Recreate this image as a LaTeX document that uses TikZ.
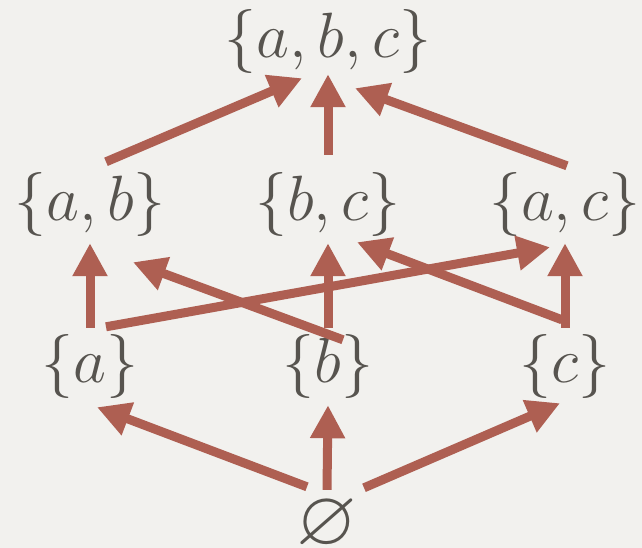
\RequirePackage{fix-cm}
\documentclass[tikz,border=0pt]{standalone}
\usepackage{amsmath,amssymb}
\usepackage{xcolor}
\usetikzlibrary{arrows.meta}
\definecolor{paper}{HTML}{F2F1EE}
\definecolor{ink}{HTML}{57544F}
\definecolor{rust}{HTML}{AE5F52}
\tikzset{
  st/.style = {inner sep=0pt, text=ink, text height=45pt, text depth=15pt,
               font=\fontsize{64}{76}\selectfont},
  fl/.style = {-{Triangle[length=33pt,width=33pt]}, line width=9pt, rust},
}
\begin{document}
\begin{tikzpicture}[x=1pt, y=-1pt]
  \fill[paper] (0,0) rectangle (642,548);
  \useasboundingbox (0,0) rectangle (642,548);

  % nodes
  \node[st] (abc) at (328,43)  {$\{a,b,c\}$};
  \node[st] (ab)  at (90,205)  {$\{a,b\}$};
  \node[st] (bc)  at (328,205) {$\{b,c\}$};
  \node[st] (ac)  at (565,205) {$\{a,c\}$};
  \node[st] (a)   at (90,367)  {$\{a\}$};
  \node[st] (b)   at (328,367) {$\{b\}$};
  \node[st] (c)   at (565,367) {$\{c\}$};
  \node[st, font=\fontsize{78}{90}\selectfont] (emp) at (327,529) {$\varnothing$};

  % empty set
  \draw[fl] ([shift={(-20,-12)}]emp.north) -- ([shift={(7,10)}]a.south);
  \draw[fl] ([shift={(0,-9)}]emp.north)    -- ([shift={(0,8)}]b.south);
  \draw[fl] ([shift={(37,-11)}]emp.north)  -- ([shift={(-5,6)}]c.south);

  % singletons
  \draw[fl] ([shift={(0,-9)}]a.north)   -- ([shift={(0,8)}]ab.south);
  \draw[fl] ([shift={(16,-10)}]a.north) -- ([shift={(-15,12)}]ac.south);
  \draw[fl] ([shift={(15,3)}]b.north)   -- ([shift={(43,27)}]ab.south);
  \draw[fl] ([shift={(0,-9)}]b.north)   -- ([shift={(0,8)}]bc.south);
  \draw[fl] ([shift={(-3,-17)}]c.north) -- ([shift={(29,7)}]bc.south);
  \draw[fl] ([shift={(0,-9)}]c.north)   -- ([shift={(0,8)}]ac.south);

  % pairs
  \draw[fl] ([shift={(16,-13)}]ab.north) -- ([shift={(-26,5)}]abc.south);
  \draw[fl] ([shift={(0,-20)}]bc.north)  -- ([shift={(0,1)}]abc.south);
  \draw[fl] ([shift={(2,-9)}]ac.north)   -- ([shift={(27,15)}]abc.south);

\end{tikzpicture}
\end{document}
